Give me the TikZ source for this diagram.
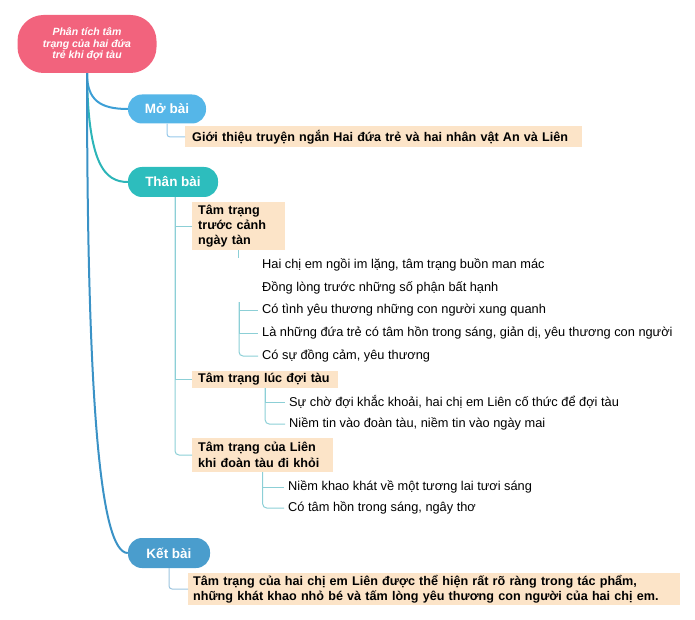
\documentclass[tikz,border=0pt]{standalone}
\usepackage{fontspec}
\setmainfont{Liberation Sans}
\definecolor{rootpink}{HTML}{F2637D}
\definecolor{mobl}{HTML}{55B6E8}
\definecolor{thteal}{HTML}{2DBDBD}
\definecolor{ketbl}{HTML}{4A9DCD}
\definecolor{peach}{HTML}{FCE4C8}
\definecolor{molink}{HTML}{3C9FD6}
\definecolor{thlink}{HTML}{2CB5B8}
\definecolor{ketlink}{HTML}{3A92C6}
\definecolor{leafmo}{HTML}{96C8EA}
\definecolor{leafth}{HTML}{8CCFD6}
\definecolor{leafket}{HTML}{9CC4DE}
\begin{document}
\begin{tikzpicture}[x=1pt,y=-1pt,
  pill/.style={rounded corners=14pt, text=white, inner sep=0pt,
    font=\bfseries\fontsize{13.5}{15}\selectfont},
  topicbox/.style={fill=peach, anchor=west, inner ysep=0pt, align=left,
    font=\bfseries\fontsize{12.6}{15.5}\selectfont},
  leaf/.style={anchor=west, inner xsep=4pt, inner ysep=0pt,
    font=\fontsize{12.8}{14}\selectfont},
  mainlink/.style={line width=2pt},
  sublink/.style={line width=1pt}
]
\useasboundingbox (0,0) rectangle (695,620);

% root
\node[fill=rootpink, rounded corners=26pt, minimum width=139pt, minimum height=58pt,
  text=white, align=center, inner sep=0pt,
  font=\bfseries\itshape\fontsize{10.5}{11.8}\selectfont] (root) at (87,44)
  {Phân tích tâm\\trạng của hai đứa\\trẻ khi đợi tàu};

% main branches
\node[pill, fill=mobl, minimum width=78pt, minimum height=29pt] (mo) at (167,109) {Mở bài};
\node[pill, fill=thteal, minimum width=90pt, minimum height=30pt] (than) at (173,182) {Thân bài};
\node[pill, fill=ketbl, minimum width=82pt, minimum height=30pt] (ket) at (169,553) {Kết bài};

\draw[mainlink, molink] (root.south) .. controls (87,100) and (100,109) .. (mo.west);
\draw[mainlink, thlink] (root.south) .. controls (88,165) and (105,182) .. (than.west);
\draw[mainlink, ketlink] (root.south) .. controls (87,400) and (100,553) .. (ket.west);

% Mở bài
\node[topicbox, text width=383pt, minimum height=21pt, inner xsep=7pt]
  (gt) at (185,137) {\mbox{Giới thiệu truyện ngắn Hai đứa trẻ và hai nhân vật An và Liên}};
\draw[sublink, leafmo, rounded corners=3pt] (mo.south) |- (gt.west);

% Thân bài topics
\node[topicbox, text width=81pt, minimum height=48pt, inner xsep=6pt, font=\bfseries\fontsize{12.6}{15}\selectfont]
  (t1) at (192,226) {\mbox{Tâm trạng}\\\mbox{trước cảnh}\\\mbox{ngày tàn}};
\node[topicbox, text width=134pt, minimum height=17pt, inner xsep=6pt]
  (t2) at (192,379.5) {\mbox{Tâm trạng lúc đợi tàu}};
\node[topicbox, text width=129pt, minimum height=34pt, inner xsep=6pt]
  (t3) at (192,455) {\mbox{Tâm trạng của Liên}\\\mbox{khi đoàn tàu đi khỏi}};

\coordinate (thtop) at ([xshift=2pt]than.south);
\draw[sublink, leafth] (thtop) |- (t1.west);
\draw[sublink, leafth] (thtop) |- (t2.west);
\draw[sublink, leafth, rounded corners=4pt] (thtop) |- (t3.west);

% leaves of t1
\node[leaf] (c1) at (258,265) {Hai chị em ngồi im lặng, tâm trạng buồn man mác};
\node[leaf] (c2) at (258,288) {Đồng lòng trước những số phận bất hạnh};
\node[leaf] (c3) at (258,310) {Có tình yêu thương những con người xung quanh};
\node[leaf] (c4) at (258,333) {Là những đứa trẻ có tâm hồn trong sáng, giản dị, yêu thương con người};
\node[leaf] (c5) at (258,356) {Có sự đồng cảm, yêu thương};

\coordinate (stubend) at (238,258);
\draw[sublink, leafth] (t1.south -| stubend) -- (stubend);
\coordinate (cfork) at (239,302);
\draw[sublink, leafth] (cfork) |- (c3.west);
\draw[sublink, leafth] (cfork) |- (c4.west);
\draw[sublink, leafth, rounded corners=4pt] (cfork) |- (c5.west);

% leaves of t2
\node[leaf] (d1) at (285,402) {Sự chờ đợi khắc khoải, hai chị em Liên cố thức để đợi tàu};
\node[leaf] (d2) at (285,424) {Niềm tin vào đoàn tàu, niềm tin vào ngày mai};
\draw[sublink, leafth] (t2.south) |- (d1.west);
\draw[sublink, leafth, rounded corners=4pt] (t2.south) |- (d2.west);

% leaves of t3
\node[leaf] (e1) at (284,487) {Niềm khao khát về một tương lai tươi sáng};
\node[leaf] (e2) at (284,508) {Có tâm hồn trong sáng, ngây thơ};
\draw[sublink, leafth] (t3.south) |- (e1.west);
\draw[sublink, leafth, rounded corners=4pt] (t3.south) |- (e2.west);

% Kết bài
\node[topicbox, text width=482pt, minimum height=32pt, inner xsep=5pt]
  (kl) at (188,589) {\mbox{Tâm trạng của hai chị em Liên được thể hiện rất rõ ràng trong tác phẩm,}\\\mbox{những khát khao nhỏ bé và tấm lòng yêu thương con người của hai chị em.}};
\draw[sublink, leafket, rounded corners=3pt] (ket.south) |- (kl.west);
\end{tikzpicture}
\end{document}
